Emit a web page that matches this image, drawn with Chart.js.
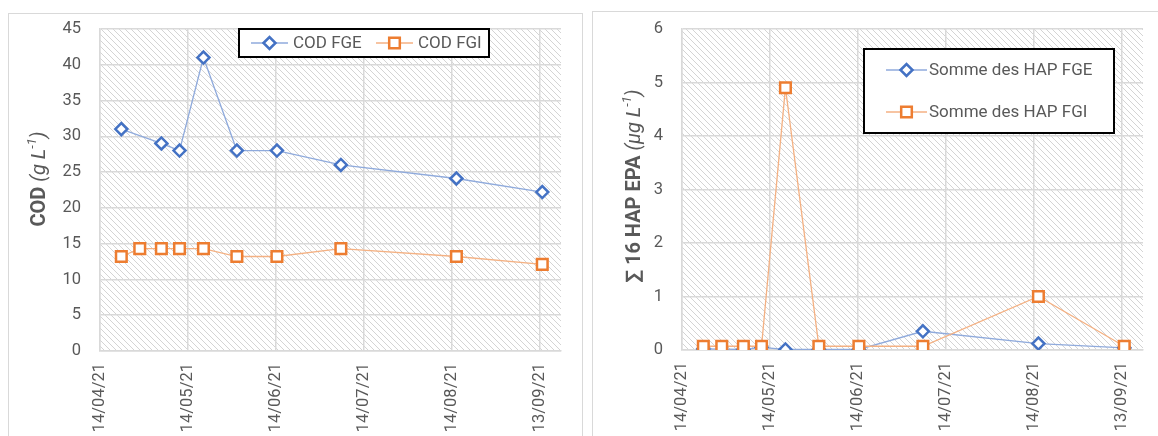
<!DOCTYPE html>
<html>
<head>
<meta charset="utf-8">
<script src="https://cdn.jsdelivr.net/npm/chart.js@4/dist/chart.umd.min.js"></script>
<style>
  html, body { margin: 0; padding: 0; background: #fff; overflow: hidden; }
  body { width: 1158px; height: 436px; position: relative; }
  .frame { position: absolute; border: 1.5px solid #d9d9d9; box-sizing: border-box; }
  .wrap { position: absolute; top: 0; height: 480px; }
</style>
</head>
<body>
<div class="frame" style="left:8px; top:13px; width:575px; height:480px;"></div>
<div class="frame" style="left:592px; top:11px; width:600px; height:480px;"></div>
<div class="wrap" style="left:0; width:590px;"><canvas id="c1" width="590" height="480"></canvas></div>
<div class="wrap" style="left:585px; width:573px;"><canvas id="c2" width="573" height="480"></canvas></div>
<script>
// ---- Data (x = days since 14/04/21) ----
const sampleDays = [7.4, 13.8, 21.3, 27.6, 35.9, 47.5, 61.4, 83.6, 123.7, 153.5];
const codFGE = [31, null, 29, 28, 41, 28, 28, 26, 24.1, 22.2];
const codFGI = [13.2, 14.3, 14.3, 14.3, 14.3, 13.2, 13.2, 14.3, 13.2, 12.1];
const hapFGE = [0.02, null, 0.01, 0.05, 0.01, 0.01, 0.01, 0.35, 0.12, 0.04];
const hapFGI = [0.07, 0.07, 0.07, 0.07, 4.9, 0.07, 0.07, 0.07, 1.0, 0.07];
const xTickDays = [0, 30.5, 61, 91.5, 122, 152.5];
const xTickLabels = ['14/04/21', '14/05/21', '14/06/21', '14/07/21', '14/08/21', '13/09/21'];
const seriesNamesCOD = ['COD FGE', 'COD FGI'];
const seriesNamesHAP = ['Somme des HAP FGE', 'Somme des HAP FGI'];

const BLUE = '#4472c4', BLUE_LINE = '#8faadc', ORANGE = '#ed7d31', ORANGE_LINE = '#f4b183';
const GRID = '#d9d9d9', TXT = '#595959';
const FONT = 'Roboto, "Noto Sans", sans-serif';

function pts(days, vals) {
  const out = [];
  days.forEach((d, i) => { if (vals[i] !== null) out.push({x: d, y: vals[i]}); });
  return out;
}

function makeHatch() {
  const s = 6;
  const c = document.createElement('canvas');
  c.width = s; c.height = s;
  const g = c.getContext('2d');
  g.strokeStyle = '#d4d4d4';
  g.lineWidth = 1;
  for (const k of [-s, 0, s]) {
    g.beginPath(); g.moveTo(k, 0); g.lineTo(k + s, s); g.stroke();
  }
  return c;
}
const hatchCanvas = makeHatch();

const hatchPlugin = {
  id: 'hatch',
  beforeDraw(chart) {
    const {ctx, chartArea: a} = chart;
    ctx.save();
    ctx.fillStyle = '#fff';
    ctx.fillRect(a.left, a.top, a.right - a.left, a.bottom - a.top);
    ctx.fillStyle = ctx.createPattern(hatchCanvas, 'repeat');
    ctx.fillRect(a.left, a.top, a.right - a.left, a.bottom - a.top);
    ctx.restore();
  }
};

const decorPlugin = {
  id: 'decor',
  afterDraw(chart, args, opts) {
    const ctx = chart.ctx;
    // axis title
    const t = opts.title;
    ctx.save();
    ctx.fillStyle = TXT;
    ctx.textBaseline = 'middle';
    let total = 0;
    t.segs.forEach(s => { ctx.font = s.font; total += ctx.measureText(s.text).width; });
    ctx.translate(t.cx, t.cy);
    ctx.rotate(-Math.PI / 2);
    let x = -total / 2;
    t.segs.forEach(s => {
      ctx.font = s.font;
      ctx.fillText(s.text, x, s.sup ? -7 : 0);
      x += ctx.measureText(s.text).width;
    });
    ctx.restore();
    // legend
    const L = opts.legend;
    ctx.save();
    ctx.fillStyle = '#fff';
    ctx.fillRect(L.x, L.y, L.w, L.h);
    ctx.strokeStyle = '#000';
    ctx.lineWidth = 2;
    ctx.strokeRect(L.x, L.y, L.w, L.h);
    L.items.forEach((it, i) => {
      const ds = chart.data.datasets[i];
      ctx.strokeStyle = ds.borderColor;
      ctx.lineWidth = 1.3;
      ctx.beginPath(); ctx.moveTo(it.x1, it.y); ctx.lineTo(it.x2, it.y); ctx.stroke();
      ctx.fillStyle = ds.pointBackgroundColor;
      ctx.strokeStyle = ds.pointBorderColor;
      ctx.lineWidth = ds.pointBorderWidth;
      Chart.helpers.drawPoint(ctx, {pointStyle: ds.pointStyle, radius: ds.pointRadius, borderWidth: ds.pointBorderWidth}, (it.x1 + it.x2) / 2, it.y);
      ctx.font = '17px ' + FONT;
      ctx.fillStyle = TXT;
      ctx.textBaseline = 'middle';
      ctx.fillText(ds.label, it.tx, it.y + 1);
    });
    ctx.restore();
  }
};

function dsFGE(label, data) {
  return {
    label, data, order: 2,
    borderColor: BLUE_LINE, borderWidth: 1.3,
    pointStyle: 'rectRot', pointRadius: 6, pointBorderWidth: 2.5,
    pointBorderColor: BLUE, pointBackgroundColor: '#fff',
    tension: 0, fill: false
  };
}
function dsFGI(label, data) {
  return {
    label, data, order: 1,
    borderColor: ORANGE_LINE, borderWidth: 1.3,
    pointStyle: 'rect', pointRadius: 7.5, pointBorderWidth: 2.5,
    pointBorderColor: ORANGE, pointBackgroundColor: '#fff',
    tension: 0, fill: false
  };
}

function makeOptions(cfg) {
  return {
    responsive: false, animation: false,
    layout: { padding: { top: 27, right: cfg.padRight, left: 0, bottom: 0 } },
    plugins: {
      legend: { display: false }, tooltip: { enabled: false },
      decor: { title: cfg.title, legend: cfg.legend }
    },
    scales: {
      x: {
        type: 'linear', min: 0, max: 160,
        afterFit: s => { s.height = cfg.xHeight; },
        afterBuildTicks: s => { s.ticks = xTickDays.map(v => ({value: v})); },
        grid: { color: GRID, lineWidth: 1.5, drawTicks: false },
        border: { color: GRID, width: 1.5 },
        ticks: {
          autoSkip: false, minRotation: 90, maxRotation: 90, padding: 12,
          color: TXT, font: { family: FONT, size: 16.5 },
          callback: (v) => { const i = xTickDays.indexOf(v); return i >= 0 ? xTickLabels[i] : ''; }
        }
      },
      y: {
        min: 0, max: cfg.yMax,
        afterFit: s => { s.width = cfg.yWidth; },
        grid: { color: GRID, lineWidth: 1.5, drawTicks: false },
        border: { color: GRID, width: 1.5 },
        ticks: { stepSize: cfg.yStep, padding: cfg.yPad, color: TXT, font: { family: FONT, size: 16.5 } }
      }
    }
  };
}

new Chart(document.getElementById('c1'), {
  type: 'line',
  data: { datasets: [dsFGE(seriesNamesCOD[0], pts(sampleDays, codFGE)), dsFGI(seriesNamesCOD[1], pts(sampleDays, codFGI))] },
  options: makeOptions({
    padRight: 29, xHeight: 129, yWidth: 100, yMax: 45, yStep: 5, yPad: 19,
    title: { cx: 40, cy: 179, segs: [
      {text: 'COD ', font: 'bold 20px ' + FONT},
      {text: '(g L', font: 'italic 20px ' + FONT},
      {text: '-1', font: 'italic 13px ' + FONT, sup: true},
      {text: ')', font: 'italic 20px ' + FONT}
    ]},
    legend: { x: 239, y: 29, w: 250, h: 28, items: [
      {x1: 251, x2: 288, y: 43, tx: 293},
      {x1: 376, x2: 413, y: 43, tx: 418}
    ]}
  }),
  plugins: [hatchPlugin, decorPlugin]
});

new Chart(document.getElementById('c2'), {
  type: 'line',
  data: { datasets: [dsFGE(seriesNamesHAP[0], pts(sampleDays, hapFGE)), dsFGI(seriesNamesHAP[1], pts(sampleDays, hapFGI))] },
  options: makeOptions({
    padRight: 15, xHeight: 130, yWidth: 97, yMax: 6, yStep: 1, yPad: 19,
    title: { cx: 50, cy: 186, segs: [
      {text: '\u2211 16 HAP EPA ', font: 'bold 20px ' + FONT},
      {text: '(\u00b5g L', font: 'italic 20px ' + FONT},
      {text: '-1', font: 'italic 13px ' + FONT, sup: true},
      {text: ')', font: 'italic 20px ' + FONT}
    ]},
    legend: { x: 279, y: 49, w: 250, h: 84, items: [
      {x1: 301, x2: 342, y: 70, tx: 344},
      {x1: 301, x2: 342, y: 112, tx: 344}
    ]}
  }),
  plugins: [hatchPlugin, decorPlugin]
});
</script>
</body>
</html>
